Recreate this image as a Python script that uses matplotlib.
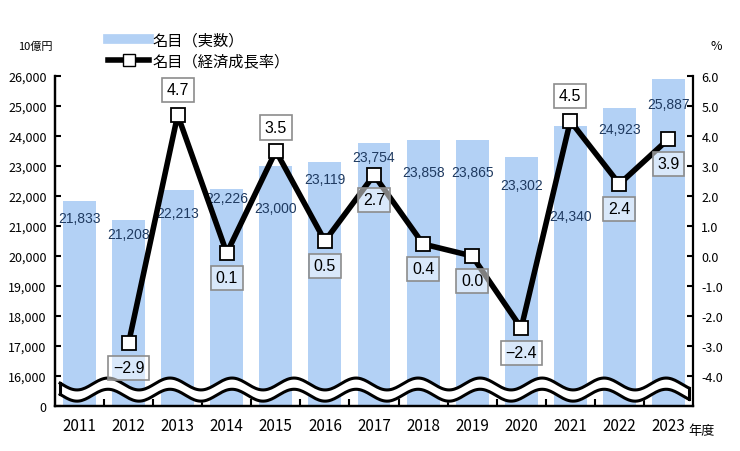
import numpy as np
import matplotlib
matplotlib.use('Agg')
import matplotlib.pyplot as plt
from matplotlib.lines import Line2D

years = ['2011', '2012', '2013', '2014', '2015', '2016', '2017',
         '2018', '2019', '2020', '2021', '2022', '2023']
nominal = [21833, 21208, 22213, 22226, 23000, 23119, 23754,
           23858, 23865, 23302, 24340, 24923, 25887]
# growth rate starts in 2012
growth_years = years[1:]
growth = [-2.9, 4.7, 0.1, 3.5, 0.5, 2.7, 0.4, 0.0, -2.4, 4.5, 2.4, 3.9]

# label placement (points relative to bar top / marker)
bar_label_dy = [-12, -10, -17, -6, -30, -12, -10, -23, -23, -20, -65, -15, -18]
growth_label_dy = [-18, 18, -18, 17, -18, -18, -18, -18, -18, 18, -18, -18]

jp = ['Noto Sans CJK JP', 'DejaVu Sans']
plt.rcParams['font.family'] = jp

bar_color = '#b3d1f5'
fig = plt.figure(figsize=(7.4, 4.52), dpi=100)
ax = fig.add_axes([55 / 740, 1 - 407 / 452, 638 / 740, 330 / 452])
ax2 = ax.twinx()

x = np.arange(len(years))
ax.bar(x, nominal, width=0.67, color=bar_color, zorder=1)
ax.set_xlim(-0.5, len(years) - 0.5)
ax.set_ylim(15000, 26000)
ax.set_yticks([15000] + list(range(16000, 26001, 1000)))
ax.set_yticklabels(['0'] + ['{:,}'.format(v) for v in range(16000, 26001, 1000)],
                   fontsize=9)
ax.set_xticks(x)
ax.set_xticklabels(years, fontsize=11)
ax.set_xticks(np.arange(0.5, len(years) - 1, 1), minor=True)
ax.tick_params(axis='x', which='major', length=0, pad=8)
ax.tick_params(axis='x', which='minor', direction='in', length=5, width=1.5)
ax.tick_params(axis='y', direction='in', length=4, width=1.5, pad=6)

for i, v in enumerate(nominal):
    ax.annotate('{:,}'.format(v), (x[i], v), xytext=(0, bar_label_dy[i]),
                textcoords='offset points', ha='center', va='center',
                fontsize=10, color='#1f3a60', family='Liberation Sans', zorder=3)

gx = [years.index(y) for y in growth_years]
ax2.plot(gx, growth, color='black', linewidth=4, marker='s', markersize=10,
         markerfacecolor='white', markeredgecolor='black', markeredgewidth=1.3,
         zorder=3)
ax2.set_ylim(-5, 6)
ax2.set_yticks(np.arange(-4, 6.1, 1))
ax2.set_yticklabels(['{:.1f}'.format(v) for v in np.arange(-4, 6.1, 1)], fontsize=9)
ax2.tick_params(axis='y', direction='in', length=4, width=1.5, pad=6)

for xi, g, dy in zip(gx, growth, growth_label_dy):
    txt = '{:.1f}'.format(g).replace('-', '\u2212')
    ax2.annotate(txt, (xi, g), xytext=(0, dy), textcoords='offset points',
                 ha='center', va='center', fontsize=11.5, family='Liberation Sans',
                 color='black', zorder=5,
                 bbox=dict(boxstyle='square,pad=0.3', facecolor=(1, 1, 1, 0.5),
                           edgecolor='#8c8c8c', linewidth=1.2))

for a in (ax, ax2):
    a.spines['top'].set_visible(False)
    for s in ('left', 'right', 'bottom'):
        a.spines[s].set_linewidth(1.6)
ax.spines['right'].set_visible(False)

# axis break band
wx = np.linspace(0.008, 0.994, 400)
phase = 2 * np.pi * (wx - 0.0345) / 0.0972
upper = 0.0667 - 0.018 * np.cos(phase)
lower = upper - 0.034
ax.fill_between(wx, lower, upper, color='white', transform=ax.transAxes,
                zorder=4, clip_on=False)
ax.plot(wx, upper, color='black', lw=2.2, transform=ax.transAxes, zorder=5,
        clip_on=False)
ax.plot(wx, lower, color='black', lw=2.2, transform=ax.transAxes, zorder=5,
        clip_on=False)
ax.plot([wx[0], wx[0]], [upper[0], lower[0]], color='black', lw=2.2,
        transform=ax.transAxes, zorder=5, clip_on=False)
ax.plot([wx[-1], wx[-1]], [upper[-1], lower[-1]], color='black', lw=2.2,
        transform=ax.transAxes, zorder=5, clip_on=False)

handles = [Line2D([], [], color=bar_color, linewidth=7),
           Line2D([], [], color='black', linewidth=4, marker='s', markersize=8,
                  markerfacecolor='white', markeredgecolor='black')]
fig.legend(handles, ['名目（実数）', '名目（経済成長率）'], loc='upper left',
           bbox_to_anchor=(102 / 740, 1 - 26 / 452), frameon=False,
           fontsize=11, handlelength=2.7, handletextpad=0.2, labelspacing=0.25,
           borderaxespad=0)

fig.text(35 / 740, 1 - 47 / 452, '10億円', fontsize=8, ha='center', va='center')
fig.text(716 / 740, 1 - 47 / 452, '%', fontsize=9, ha='center', va='center')
fig.text(702 / 740, 1 - 432 / 452, '年度', fontsize=9.5, ha='center', va='center')

fig.savefig('out.png', dpi=100)
